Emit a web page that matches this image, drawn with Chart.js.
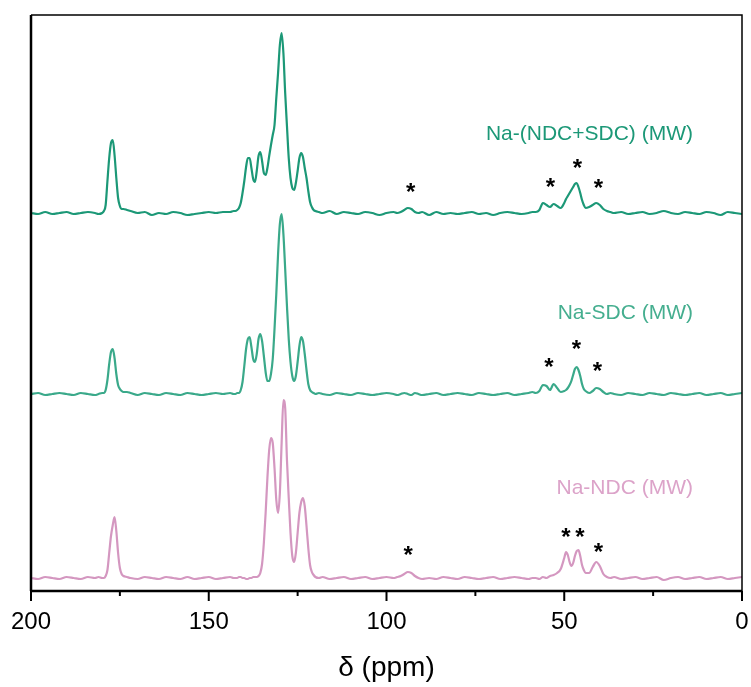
<!DOCTYPE html>
<html>
<head>
<meta charset="utf-8">
<script src="https://cdn.jsdelivr.net/npm/chart.js@4.4.1/dist/chart.umd.min.js"></script>
<style>
  html, body { margin: 0; padding: 0; background: #fff; }
  #wrap { width: 751px; height: 687px; }
</style>
</head>
<body>
<div id="wrap"><canvas id="nmr" width="751" height="687"></canvas></div>
<script>
// chemical shift grid (ppm), shared by all three spectra
const ppm = [200,198,196,194,192,190,188,186,184,182,181,180,
  179.5,179,178.5,178,177.5,177,176.5,176,175.5,175,174.5,174,
  173,172,170,168,166,164,162,160,158,156,154,152,150,148,146,144,143,
  142.5,142,141.5,141,140.5,140,139.5,139,138.5,138,137.5,137,136.5,136,135.5,135,134.5,134,133.5,133,
  132.5,132,131.5,131,130.5,130,129.5,129,128.5,128,127.5,127,126.5,126,125.5,125,124.5,124,123.5,123,
  122.5,122,121.5,121,120.5,120,
  119,118,116,114,112,110,108,106,104,102,100,98,97,96,95,94,93,92,91,90,
  88,86,84,82,80,78,76,74,72,70,68,66,64,62,60,59,
  58,57,56,55,54,53,52,51,50,49.5,49,48.5,48,47.5,47,46.5,46,45.5,45,44.5,44,43,42,41,40,39,38,37,
  36,34,32,30,28,26,24,22,20,18,16,14,12,10,8,6,4,2,0];

// intensities (arbitrary units, above each trace's own baseline)
const naNdcSdc = [0,-1,1,-1,0,1,-1,0,1,0,-1,0,
  2,8,32,55,70,73,58,35,15,7,4,4,
  3,2,0,1,-2,0,-1,1,0,-2,-1,0,1,0,1,1,2,
  2,3,5,10,20,32,46,55,55,45,34,31,42,57,61,52,40,38,45,57,
  68,78,88,115,140,168,180,160,120,87,55,35,25,23,30,42,55,60,56,45,
  35,22,11,6,3,2,
  1,0,2,-1,1,0,-1,1,0,-2,0,1,0,1,3,5,4,1,0,1,
  -2,1,-1,0,-1,0,1,-1,0,-2,0,1,0,-1,0,1,
  1,3,10,8,6,9,7,5,10,14,17,20,23,26,29,30,26,20,13,8,5,6,8,10,8,4,2,1,
  0,1,-1,0,1,-1,0,2,0,-1,1,0,-1,1,0,-2,1,0,-1];

const naSdc = [0,1,-1,0,1,0,-1,1,0,-1,0,1,
  1,4,14,30,42,45,36,20,9,5,3,2,
  2,1,-1,1,0,-1,1,0,-1,1,0,-1,0,1,0,1,0,
  0,1,1,4,12,28,45,55,57,47,35,32,40,55,60,53,38,22,13,13,
  20,35,65,100,140,170,180,160,125,88,55,32,18,13,18,32,48,57,53,40,
  24,10,4,2,1,0,
  1,0,-1,1,0,-1,1,0,-1,0,1,0,-1,0,1,0,-1,1,0,-1,
  0,1,-1,0,1,0,-1,1,0,-1,0,1,-1,0,1,2,
  1,3,9,8,4,10,6,2,3,4,6,9,13,19,25,27,24,18,10,5,3,1,3,6,5,2,0,1,
  0,-1,1,0,-1,1,0,-1,1,0,-1,0,1,-1,0,1,-1,0,1];

const naNdc = [0,-1,1,0,-1,1,0,-1,1,0,1,0,
  0,2,8,25,42,53,61,47,25,10,4,2,
  1,0,-1,1,0,-1,1,0,-1,1,-1,0,1,-1,0,1,0,
  0,0,1,1,0,0,-1,-1,0,0,1,1,1,2,5,14,35,65,100,128,
  140,135,110,78,65,85,135,178,170,118,80,45,22,16,25,45,65,76,80,72,
  52,30,13,6,3,1,
  0,1,-1,0,1,-1,0,1,-1,0,1,0,1,2,4,6,5,2,0,-1,
  0,-1,1,0,-1,1,0,-1,0,1,-1,0,1,0,-1,0,
  0,-1,1,0,2,3,5,9,20,26,23,16,12,15,22,27,28,22,13,8,5,5,11,16,12,4,1,0,
  1,-1,0,1,-1,0,1,-2,0,1,-1,0,1,-1,0,1,-1,0,1];

const seriesNames = ['Na-(NDC+SDC) (MW)', 'Na-SDC (MW)', 'Na-NDC (MW)'];
const seriesData = [naNdcSdc, naSdc, naNdc];
const stackOffsets = [378, 197, 13];
const lineColors = ['#1c9877', '#3aa98a', '#d497c0'];
const labelColors = ['#1c9877', '#45ae8f', '#dca3c9'];
const labelHeights = [457, 278, 103];
const majorTicks = [200, 150, 100, 50, 0];
const minorTicks = [175, 125, 75, 25];

// spinning sideband markers: [ppm, height]
const sidebands = [
  [93.2, 404], [53.9, 409], [46.3, 428], [40.4, 408],
  [54.3, 229], [46.6, 247], [40.7, 225],
  [93.9, 41], [49.5, 59], [45.6, 59], [40.4, 44]
];

const FONT = '"Liberation Sans", Arial, sans-serif';

const datasets = seriesData.map((vals, i) => ({
  label: seriesNames[i],
  data: ppm.map((p, j) => ({ x: p, y: vals[j] + stackOffsets[i] })),
  borderColor: lineColors[i],
  borderWidth: 2.2,
  pointRadius: 0,
  fill: false,
  cubicInterpolationMode: 'monotone'
}));

function tickMarks(ctx, scale, values, len, bottom) {
  values.forEach(v => {
    const px = scale.getPixelForValue(v);
    ctx.beginPath();
    ctx.moveTo(px, bottom);
    ctx.lineTo(px, bottom + len);
    ctx.stroke();
  });
}

const decorations = {
  id: 'decorations',
  afterDraw(chart) {
    const { ctx, chartArea: a, scales: { x, y } } = chart;
    ctx.save();
    ctx.strokeStyle = '#000';
    ctx.lineWidth = 1.5;
    ctx.beginPath();
    ctx.moveTo(a.left, a.top);
    ctx.lineTo(a.right, a.top);
    ctx.lineTo(a.right, a.bottom);
    ctx.stroke();
    ctx.lineWidth = 2.5;
    ctx.beginPath();
    ctx.moveTo(a.left, a.bottom);
    ctx.lineTo(a.left, a.top);
    ctx.moveTo(a.left, a.bottom);
    ctx.lineTo(a.right, a.bottom);
    ctx.stroke();

    ctx.lineWidth = 2;
    tickMarks(ctx, x, majorTicks, 10, a.bottom);
    tickMarks(ctx, x, minorTicks, 5, a.bottom);

    // series labels
    ctx.font = '21px ' + FONT;
    ctx.textAlign = 'right';
    ctx.textBaseline = 'middle';
    const rightX = x.getPixelForValue(13.8);
    seriesNames.forEach((name, i) => {
      ctx.fillStyle = labelColors[i];
      ctx.fillText(name, rightX, y.getPixelForValue(labelHeights[i]));
    });

    // asterisks
    ctx.fillStyle = '#000';
    ctx.font = 'bold 24px ' + FONT;
    ctx.textAlign = 'center';
    ctx.textBaseline = 'alphabetic';
    const m = ctx.measureText('*');
    const shift = (m.actualBoundingBoxAscent - m.actualBoundingBoxDescent) / 2;
    sidebands.forEach(([p, h]) => {
      ctx.fillText('*', x.getPixelForValue(p), y.getPixelForValue(h) + shift);
    });
    ctx.restore();
  }
};

new Chart(document.getElementById('nmr'), {
  type: 'line',
  data: { datasets },
  options: {
    responsive: false,
    animation: false,
    devicePixelRatio: 1,
    layout: { padding: { left: 31, right: 9, top: 15, bottom: 0 } },
    plugins: { legend: { display: false }, tooltip: { enabled: false } },
    scales: {
      x: {
        type: 'linear',
        reverse: true,
        min: 0,
        max: 200,
        afterFit(scale) { scale.height = 96; },
        border: { display: false },
        grid: { display: true, drawOnChartArea: false, drawTicks: true, tickLength: 15, tickColor: 'rgba(0,0,0,0)', color: 'rgba(0,0,0,0)' },
        ticks: { stepSize: 50, color: '#000', font: { size: 24, family: FONT }, padding: 2, maxRotation: 0, autoSkip: false },
        title: { display: true, text: 'δ (ppm)', color: '#000', font: { size: 28, family: FONT }, padding: { top: 4, bottom: 2 } }
      },
      y: { display: false, min: 0, max: 576 }
    }
  },
  plugins: [decorations]
});
</script>
</body>
</html>
